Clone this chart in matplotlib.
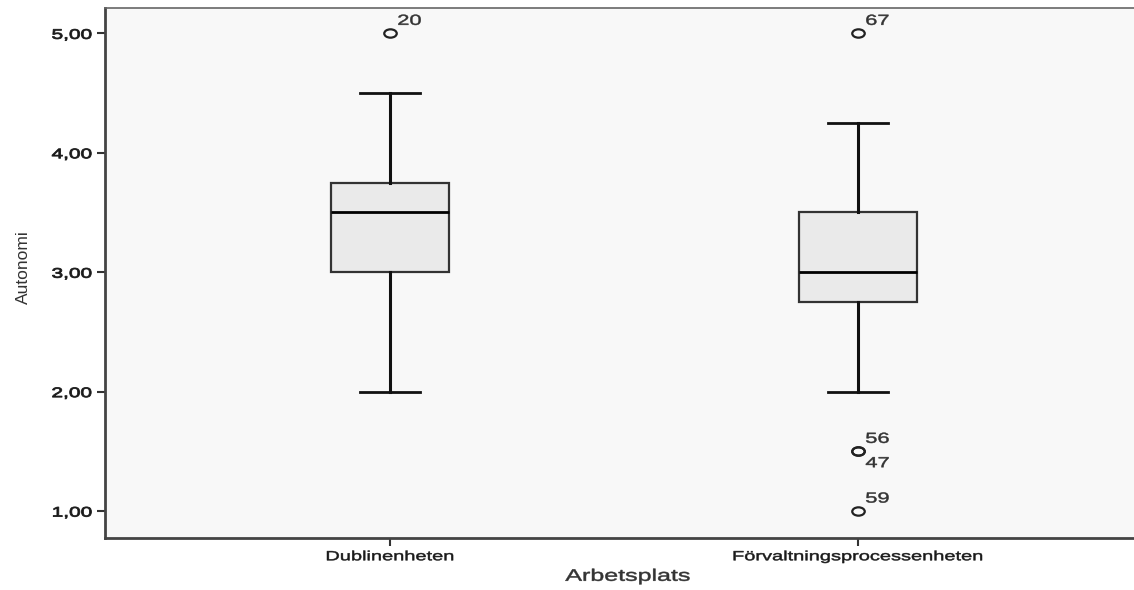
import matplotlib
matplotlib.use('Agg')
import numpy as np
import matplotlib.pyplot as plt
from matplotlib.path import Path
from matplotlib.patheffects import AbstractPathEffect
from matplotlib.transforms import Affine2D

plt.rcParams['font.family'] = ['Liberation Sans', 'DejaVu Sans']

# box summaries
groups = ['Dublinenheten', 'Förvaltningsprocessenheten']
q1 = [3.00, 2.75]
median = [3.50, 3.00]
q3 = [3.75, 3.50]
whisker_lo = [2.00, 2.00]
whisker_hi = [4.50, 4.25]
outliers = [[5.00], [5.00, 1.50, 1.50, 1.00]]
outlier_ids = [['20'], ['67', '56', '47', '59']]
yticks = [1, 2, 3, 4, 5]


class Stretch(AbstractPathEffect):
    # the SPSS export is stretched sideways, widen the glyphs the same way
    def __init__(self, sx=1.5, anchor='center', lw=0.35):
        super().__init__()
        self.sx = sx
        self.anchor = anchor
        self.lw = lw

    def draw_path(self, renderer, gc, tpath, affine, rgbFace=None):
        v = tpath.vertices
        if tpath.codes is not None:
            v = v[tpath.codes != Path.CLOSEPOLY]
        xs = affine.transform(v)[:, 0]
        if self.anchor == 'left':
            x0 = xs.min()
        elif self.anchor == 'right':
            x0 = xs.max()
        else:
            x0 = (xs.min() + xs.max()) / 2
        t = affine + Affine2D().translate(-x0, 0).scale(self.sx, 1).translate(x0, 0)
        gc0 = renderer.new_gc()
        gc0.copy_properties(gc)
        gc0.set_linewidth(self.lw)
        if rgbFace is not None:
            gc0.set_foreground(rgbFace)
        renderer.draw_path(gc0, tpath, t, rgbFace)
        gc0.restore()


stats = []
for i, g in enumerate(groups):
    stats.append(dict(label=g, q1=q1[i], med=median[i], q3=q3[i],
                      whislo=whisker_lo[i], whishi=whisker_hi[i],
                      fliers=outliers[i]))

# flat circle marker, like the stretched "o" in the original
ell = Path(Path.unit_circle().vertices * [1.5, 1.0], Path.unit_circle().codes)

fig = plt.figure(figsize=(11.34, 5.90), dpi=100)
fig.patch.set_facecolor('white')
ax = fig.add_axes([0.0926, 0.088, 0.9074, 0.898])
ax.set_facecolor('#f8f8f8')

pos = [1, 2]
ax.bxp(stats, positions=pos, widths=0.252, patch_artist=True,
       boxprops=dict(facecolor='#eaeaea', edgecolor='#333333', linewidth=1.6),
       medianprops=dict(color='black', linewidth=2),
       whiskerprops=dict(color='#111111', linewidth=2.2),
       capprops=dict(color='#111111', linewidth=2),
       capwidths=0.128,
       flierprops=dict(marker=ell, markersize=9, markerfacecolor='none',
                       markeredgecolor='#222222', markeredgewidth=1.6))

# case number labels next to outliers
for i, p in enumerate(pos):
    seen = {}
    for val, lab in zip(outliers[i], outlier_ids[i]):
        k = seen.get(val, 0)
        seen[val] = k + 1
        dy = 9 if k == 0 else -8.5
        ax.annotate(lab, (p, val), xytext=(5.5, dy), textcoords='offset points',
                    fontsize=10.5, color='#333333', va='center', ha='left',
                    path_effects=[Stretch(1.5, 'left')])

ax.set_xlim(0.391, 2.59)
ax.set_ylim(0.774, 5.21)
ax.set_xticks(pos)
ax.set_xticklabels(groups, fontsize=9.6, color='#1a1a1a')
ax.set_yticks(yticks)
ax.set_yticklabels([('%.2f' % v).replace('.', ',') for v in yticks],
                   fontsize=10, color='#1a1a1a')
ax.tick_params(length=6, width=1.5, color='#333333')
for t in ax.get_xticklabels():
    t.set_path_effects([Stretch(1.5, 'center')])
for t in ax.get_yticklabels():
    t.set_path_effects([Stretch(1.5, 'right', lw=0.6)])

for side in ['left', 'bottom']:
    ax.spines[side].set_linewidth(2)
    ax.spines[side].set_color('#444444')
ax.spines['top'].set_linewidth(1.2)
ax.spines['top'].set_color('#666666')
ax.spines['right'].set_visible(False)

xl = ax.set_xlabel('Arbetsplats', fontsize=12, color='#333333')
xl.set_path_effects([Stretch(1.5, 'center')])
ax.xaxis.set_label_coords(0.508, -0.058)
ax.set_ylabel('Autonomi', fontsize=12.5, color='#333333')
ax.yaxis.set_label_coords(-0.072, 0.511)

fig.savefig('out.png', dpi=100)
